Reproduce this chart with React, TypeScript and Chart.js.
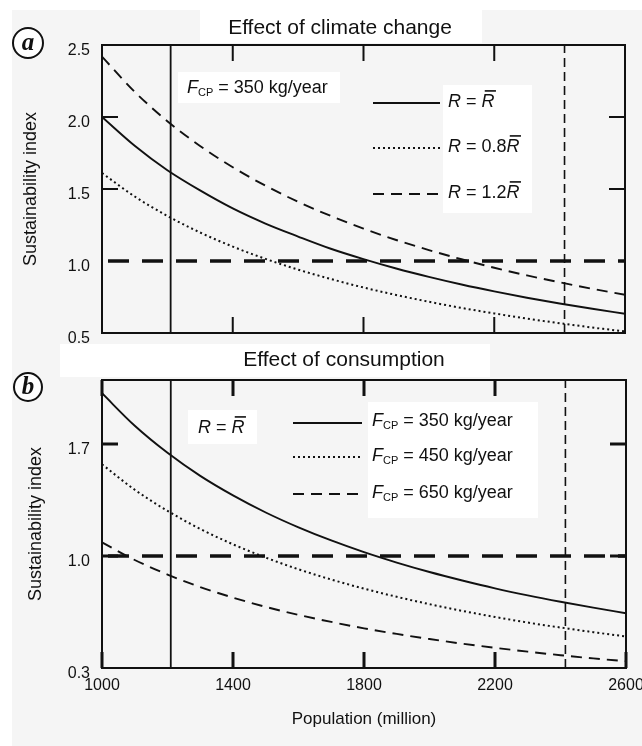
import React, { useEffect, useRef } from "react";
import { Chart, registerables } from "chart.js";
Chart.register(...registerables);

// ---------- data ----------
const POPULATION = [1000, 1100, 1200, 1300, 1400, 1500, 1600, 1700, 1800, 1900, 2000, 2100, 2200, 2300, 2400, 2500, 2600];
// panel a: effect of climate change (F_CP = 350 kg/year)
const A_R_MEAN = [2.0, 1.8, 1.63, 1.49, 1.365, 1.26, 1.17, 1.085, 1.013, 0.948, 0.89, 0.837, 0.789, 0.745, 0.705, 0.668, 0.634];
const A_R_08 = [1.611, 1.448, 1.313, 1.198, 1.1, 1.015, 0.94, 0.875, 0.816, 0.764, 0.717, 0.674, 0.636, 0.6, 0.568, 0.538, 0.511];
const A_R_12 = [2.419, 2.175, 1.971, 1.799, 1.651, 1.523, 1.411, 1.313, 1.225, 1.146, 1.076, 1.012, 0.953, 0.9, 0.852, 0.807, 0.766];
// panel b: effect of consumption (R = mean R)
const B_F350 = [2.017, 1.814, 1.645, 1.501, 1.379, 1.272, 1.179, 1.097, 1.024, 0.959, 0.9, 0.847, 0.798, 0.754, 0.714, 0.677, 0.642];
const B_F450 = [1.573, 1.414, 1.282, 1.169, 1.073, 0.99, 0.917, 0.853, 0.796, 0.745, 0.699, 0.657, 0.619, 0.584, 0.553, 0.524, 0.497];
const B_F650 = [1.085, 0.975, 0.884, 0.806, 0.74, 0.682, 0.632, 0.588, 0.548, 0.513, 0.481, 0.452, 0.426, 0.402, 0.38, 0.36, 0.342];

const X_TICKS = [1000, 1400, 1800, 2200, 2600];
const X_RANGE = [1000, 2600];
const Y_TICKS_A = [0.5, 1.0, 1.5, 2.0, 2.5];
const Y_RANGE_A = [0.5, 2.5];
const Y_TICKS_B = [0.3, 1.0, 1.7];
const Y_RANGE_B = [0.3, 2.1];
const THRESHOLD = 1.0;
const P_NOW = 1210;
const P_FUTURE = 2415;

const TITLE_A = "Effect of climate change";
const TITLE_B = "Effect of consumption";
const Y_TITLE = "Sustainability index";
const X_TITLE = "Population (million)";

// ---------- helpers ----------
const SANS = '"Liberation Sans", Arial, Helvetica, sans-serif';
const SERIF = '"Liberation Serif", "Times New Roman", serif';
const INK = "#111111";

type Part = { t: string; it?: boolean; sz?: number; dy?: number; bar?: boolean };

function drawParts(ctx: CanvasRenderingContext2D, x: number, y: number, parts: Part[], base = 18) {
  let cx = x;
  ctx.save();
  ctx.fillStyle = INK;
  ctx.textBaseline = "middle";
  ctx.textAlign = "left";
  for (const p of parts) {
    const sz = p.sz ?? base;
    ctx.font = `${p.it ? "italic " : ""}${sz}px ${SANS}`;
    ctx.fillText(p.t, cx, y + (p.dy ?? 0));
    const w = ctx.measureText(p.t).width;
    if (p.bar) {
      ctx.fillRect(cx + sz * 0.18, y - sz * 0.66, w - sz * 0.1, 1.6);
    }
    cx += w;
  }
  ctx.restore();
}

function fcp(value: string): Part[] {
  return [
    { t: "F", it: true },
    { t: "CP", sz: 11, dy: 5 },
    { t: ` = ${value} kg/year` },
  ];
}
function rLabel(coef: string): Part[] {
  return [{ t: "R", it: true }, { t: " = " + coef }, { t: "R", it: true, bar: true }];
}

function strokeLine(ctx: CanvasRenderingContext2D, x1: number, y1: number, x2: number, y2: number, w: number, dash: number[]) {
  ctx.save();
  ctx.strokeStyle = INK;
  ctx.lineWidth = w;
  ctx.setLineDash(dash);
  ctx.beginPath();
  ctx.moveTo(x1, y1);
  ctx.lineTo(x2, y2);
  ctx.stroke();
  ctx.restore();
}

function whiteBox(ctx: CanvasRenderingContext2D, x1: number, y1: number, x2: number, y2: number) {
  ctx.save();
  ctx.fillStyle = "#ffffff";
  ctx.fillRect(x1, y1, x2 - x1, y2 - y1);
  ctx.restore();
}

function circleLetter(ctx: CanvasRenderingContext2D, cx: number, cy: number, r: number, letter: string) {
  ctx.save();
  ctx.fillStyle = "#ffffff";
  ctx.strokeStyle = INK;
  ctx.lineWidth = 2;
  ctx.beginPath();
  ctx.arc(cx, cy, r, 0, Math.PI * 2);
  ctx.fill();
  ctx.stroke();
  ctx.fillStyle = INK;
  ctx.font = `italic bold 25px ${SERIF}`;
  ctx.textAlign = "center";
  ctx.textBaseline = "middle";
  ctx.fillText(letter, cx, cy + 1);
  ctx.restore();
}

const SOLID: number[] = [];
const DOTTED = [2, 3];
const DASHED = [11, 7];

type Series = { label: string; data: number[]; dash: number[]; width: number };
type TickSpec = { xTop: number[]; xBottom: number[]; yLeft: number[]; yRight: number[]; w: number; len: number };

type PanelSpec = {
  padTop: number;
  padRight: number;
  padBottom: number;
  xAxisHeight: number;
  xLabels: boolean;
  yTicks: number[];
  yRange: number[];
  yTitlePad: number;
  series: Series[];
  ticks: TickSpec;
  before: (ctx: CanvasRenderingContext2D) => void;
  after: (ctx: CanvasRenderingContext2D) => void;
};

function makeConfig(spec: PanelSpec): any {
  const curves = spec.series.map((s) => ({
    label: s.label,
    data: POPULATION.map((x, i) => ({ x, y: s.data[i] })),
    borderColor: INK,
    borderWidth: s.width,
    borderDash: s.dash,
    pointRadius: 0,
    fill: false,
    tension: 0.4,
    cubicInterpolationMode: "monotone",
  }));
  const refLines = [
    {
      label: "threshold",
      data: X_RANGE.map((x) => ({ x, y: THRESHOLD })),
      borderColor: INK,
      borderWidth: 3.5,
      borderDash: [21, 13],
      borderDashOffset: -6,
      pointRadius: 0,
      fill: false,
    },
    {
      label: "now",
      data: spec.yRange.map((y) => ({ x: P_NOW, y })),
      borderColor: INK,
      borderWidth: 1.8,
      pointRadius: 0,
      fill: false,
    },
    {
      label: "future",
      data: spec.yRange.map((y) => ({ x: P_FUTURE, y })),
      borderColor: INK,
      borderWidth: 1.6,
      borderDash: [9, 5],
      pointRadius: 0,
      fill: false,
    },
  ];

  const decor = {
    id: "decor",
    beforeDatasetsDraw(chart: any) {
      spec.before(chart.ctx);
    },
    afterDatasetsDraw(chart: any) {
      const ctx: CanvasRenderingContext2D = chart.ctx;
      const { left, right, top, bottom } = chart.chartArea;
      const xs = chart.scales.x;
      const ys = chart.scales.y;
      const t = spec.ticks;
      ctx.save();
      ctx.strokeStyle = INK;
      ctx.lineWidth = t.w;
      ctx.setLineDash([]);
      ctx.beginPath();
      for (const v of t.xTop) {
        const px = xs.getPixelForValue(v);
        ctx.moveTo(px, top);
        ctx.lineTo(px, top + t.len);
      }
      for (const v of t.xBottom) {
        const px = xs.getPixelForValue(v);
        ctx.moveTo(px, bottom);
        ctx.lineTo(px, bottom - t.len);
      }
      for (const v of t.yLeft) {
        const py = ys.getPixelForValue(v);
        ctx.moveTo(left, py);
        ctx.lineTo(left + t.len, py);
      }
      for (const v of t.yRight) {
        const py = ys.getPixelForValue(v);
        ctx.moveTo(right, py);
        ctx.lineTo(right - t.len, py);
      }
      ctx.stroke();
      ctx.lineWidth = 2;
      ctx.strokeRect(left, top, right - left, bottom - top);
      ctx.restore();
      spec.after(ctx);
    },
  };

  return {
    type: "line",
    data: { datasets: [...refLines, ...curves] },
    options: {
      animation: false,
      responsive: false,
      devicePixelRatio: 1,
      layout: { padding: { left: 0, top: spec.padTop, right: spec.padRight, bottom: spec.padBottom } },
      plugins: { legend: { display: false }, tooltip: { enabled: false }, title: { display: false } },
      scales: {
        x: {
          type: "linear",
          min: X_RANGE[0],
          max: X_RANGE[1],
          grid: { display: false, drawTicks: false },
          border: { display: false },
          afterBuildTicks: (s: any) => {
            s.ticks = X_TICKS.map((v) => ({ value: v }));
          },
          afterFit: (s: any) => {
            s.height = spec.xAxisHeight;
            s.paddingLeft = 0;
            s.paddingRight = 0;
          },
          ticks: {
            display: spec.xLabels,
            padding: 8,
            color: INK,
            font: { family: SANS, size: 16 },
            maxRotation: 0,
            autoSkip: false,
            callback: (v: any) => String(v),
          },
          title: {
            display: spec.xLabels,
            text: X_TITLE,
            color: INK,
            font: { family: SANS, size: 17 },
            padding: { top: 0, bottom: 16 },
          },
        },
        y: {
          type: "linear",
          min: spec.yRange[0],
          max: spec.yRange[1],
          grid: { display: false, drawTicks: false },
          border: { display: false },
          afterBuildTicks: (s: any) => {
            s.ticks = spec.yTicks.map((v) => ({ value: v }));
          },
          afterFit: (s: any) => {
            s.width = 102;
            s.paddingTop = 0;
            s.paddingBottom = 0;
          },
          ticks: {
            padding: 12,
            labelOffset: 6,
            color: INK,
            font: { family: SANS, size: 16 },
            callback: (v: any) => Number(v).toFixed(1),
          },
          title: {
            display: true,
            text: Y_TITLE,
            color: INK,
            font: { family: SANS, size: 18 },
            padding: { top: spec.yTitlePad, bottom: 0 },
          },
        },
      },
    },
    plugins: [decor],
  };
}

const specA: PanelSpec = {
  padTop: 45,
  padRight: 17,
  padBottom: 746 - 333,
  xAxisHeight: 0,
  xLabels: false,
  yTicks: Y_TICKS_A,
  yRange: Y_RANGE_A,
  yTitlePad: 20,
  series: [
    { label: "R = mean R", data: A_R_MEAN, dash: SOLID, width: 1.9 },
    { label: "R = 0.8 mean R", data: A_R_08, dash: DOTTED, width: 2 },
    { label: "R = 1.2 mean R", data: A_R_12, dash: DASHED, width: 1.9 },
  ],
  ticks: { xTop: [1400, 1800, 2200], xBottom: [1400, 1800, 2200], yLeft: [2.0, 1.5], yRight: [2.0, 1.5], w: 2, len: 16 },
  before: (ctx) => {
    whiteBox(ctx, 200, 10, 482, 43);
    whiteBox(ctx, 178, 72, 340, 103);
    whiteBox(ctx, 443, 85, 532, 213);
  },
  after: (ctx) => {
    ctx.save();
    ctx.fillStyle = INK;
    ctx.font = `21px ${SANS}`;
    ctx.textAlign = "center";
    ctx.textBaseline = "middle";
    ctx.fillText(TITLE_A, 340, 28);
    ctx.restore();
    circleLetter(ctx, 28, 43, 15, "a");
    drawParts(ctx, 187, 88, fcp("350"));
    strokeLine(ctx, 373, 103, 440, 103, 1.9, SOLID);
    strokeLine(ctx, 373, 148, 440, 148, 2, DOTTED);
    strokeLine(ctx, 373, 194, 440, 194, 1.9, DASHED);
    drawParts(ctx, 448, 102, rLabel(""));
    drawParts(ctx, 448, 147, rLabel("0.8"));
    drawParts(ctx, 448, 193, rLabel("1.2"));
  },
};

const specB: PanelSpec = {
  padTop: 380,
  padRight: 16,
  padBottom: 0,
  xAxisHeight: 78,
  xLabels: true,
  yTicks: Y_TICKS_B,
  yRange: Y_RANGE_B,
  yTitlePad: 25,
  series: [
    { label: "F_CP = 350 kg/year", data: B_F350, dash: SOLID, width: 1.9 },
    { label: "F_CP = 450 kg/year", data: B_F450, dash: DOTTED, width: 2 },
    { label: "F_CP = 650 kg/year", data: B_F650, dash: DASHED, width: 1.9 },
  ],
  ticks: { xTop: [1000, 1400, 1800, 2200], xBottom: [1000, 1400, 1800, 2200, 2600], yLeft: [1.7, 1.0], yRight: [1.7, 1.0], w: 3, len: 16 },
  before: (ctx) => {
    whiteBox(ctx, 60, 344, 490, 377);
    whiteBox(ctx, 188, 410, 257, 444);
    whiteBox(ctx, 368, 402, 538, 518);
  },
  after: (ctx) => {
    ctx.save();
    ctx.fillStyle = INK;
    ctx.font = `21px ${SANS}`;
    ctx.textAlign = "center";
    ctx.textBaseline = "middle";
    ctx.fillText(TITLE_B, 344, 360);
    ctx.restore();
    circleLetter(ctx, 28, 387, 14, "b");
    drawParts(ctx, 198, 428, rLabel(""));
    strokeLine(ctx, 293, 423, 362, 423, 1.9, SOLID);
    strokeLine(ctx, 293, 457, 362, 457, 2, DOTTED);
    strokeLine(ctx, 293, 494, 362, 494, 1.9, DASHED);
    drawParts(ctx, 372, 421, fcp("350"));
    drawParts(ctx, 372, 456, fcp("450"));
    drawParts(ctx, 372, 493, fcp("650"));
  },
};

export default function App() {
  const refA = useRef<HTMLCanvasElement>(null);
  const refB = useRef<HTMLCanvasElement>(null);
  useEffect(() => {
    const a = new Chart(refA.current as HTMLCanvasElement, makeConfig(specA));
    const b = new Chart(refB.current as HTMLCanvasElement, makeConfig(specB));
    return () => {
      a.destroy();
      b.destroy();
    };
  }, []);
  const cstyle: React.CSSProperties = { position: "absolute", left: 0, top: 0, width: 642, height: 746 };
  return (
    <div style={{ position: "absolute", left: 0, top: 0, width: 642, height: 746, background: "#ffffff", overflow: "hidden" }}>
      <div style={{ position: "absolute", left: 12, top: 10, width: 630, height: 736, background: "#f5f5f5" }} />
      <canvas ref={refA} width={642} height={746} style={cstyle} />
      <canvas ref={refB} width={642} height={746} style={cstyle} />
    </div>
  );
}
